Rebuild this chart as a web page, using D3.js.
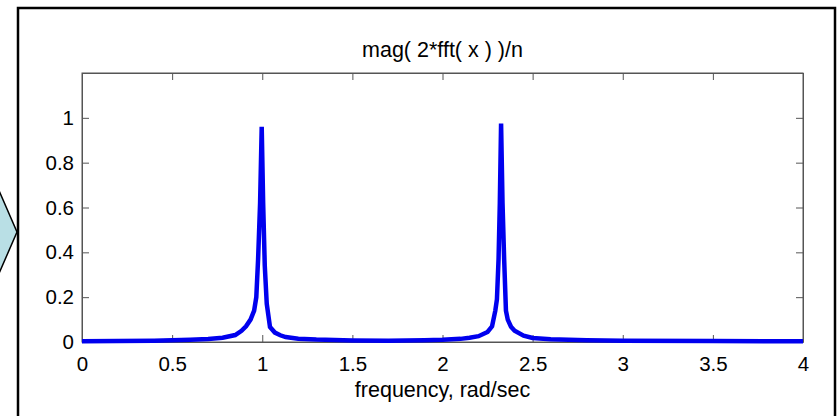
<!DOCTYPE html>
<html>
<head>
<meta charset="utf-8">
<script src="https://cdn.jsdelivr.net/npm/d3@7"></script>
<style>
  html, body { margin: 0; padding: 0; background: #fff; }
  svg { display: block; }
  text { font-family: "Liberation Sans", Arial, sans-serif; fill: #000; }
</style>
</head>
<body>
<svg id="chart" width="838" height="416"></svg>
<script>
// ---- data ----
const frequency = [0, 0.2, 0.4, 0.5, 0.6, 0.7, 0.78, 0.85, 0.885, 0.91, 0.935, 0.955, 0.967, 0.977, 0.988, 0.997,
                   1.005, 1.014, 1.025, 1.043, 1.07, 1.1, 1.13, 1.2, 1.3, 1.5, 1.7, 1.9, 2.0, 2.1,
                   2.15, 2.2, 2.25, 2.275, 2.293, 2.302, 2.311, 2.318, 2.325, 2.333, 2.342, 2.352, 2.362,
                   2.38, 2.4, 2.45, 2.5, 2.6, 2.8, 3.0, 3.5, 4.0];
const magnitude = [0.003, 0.004, 0.006, 0.008, 0.010, 0.013, 0.019, 0.031, 0.05, 0.07, 0.10, 0.14, 0.20, 0.37, 0.62, 0.96,
                   0.62, 0.34, 0.17, 0.067, 0.042, 0.03, 0.022, 0.015, 0.011, 0.007, 0.006, 0.008, 0.010, 0.014,
                   0.019, 0.026, 0.045, 0.07, 0.14, 0.19, 0.37, 0.62, 0.975, 0.62, 0.37, 0.14, 0.1,
                   0.068, 0.05, 0.028, 0.018, 0.012, 0.008, 0.006, 0.004, 0.003];
const xTicks = [0, 0.5, 1, 1.5, 2, 2.5, 3, 3.5, 4];
const xTickLabels = ["0", "0.5", "1", "1.5", "2", "2.5", "3", "3.5", "4"];
const yTicks = [0, 0.2, 0.4, 0.6, 0.8, 1];
const yTickLabels = ["0", "0.2", "0.4", "0.6", "0.8", "1"];
const titleText = "mag( 2*fft( x ) )/n";
const xLabelText = "frequency, rad/sec";

// ---- layout ----
const svg = d3.select("#chart");
const plot = { left: 82, right: 803, top: 73, bottom: 342 };
const axisColor = "#555";
const tickFont = 20.5;
const labelFont = 21.5;

svg.append("rect").attr("width", 838).attr("height", 416).attr("fill", "#fff");

// light blue chevron at the left edge (slide decoration)
svg.append("path")
  .attr("d", "M-6,179 L17,232 L-6,285 Z")
  .attr("fill", "#b9dfe5").attr("stroke", "#000").attr("stroke-width", 1.5);

// outer frame
svg.append("rect")
  .attr("x", 18).attr("y", 8).attr("width", 817).attr("height", 430)
  .attr("fill", "none").attr("stroke", "#000").attr("stroke-width", 2.5);

const x = d3.scaleLinear().domain([0, 4]).range([plot.left, plot.right]);
const y = d3.scaleLinear().domain([0, 1.2]).range([plot.bottom, plot.top]);

// plot box
svg.append("rect")
  .attr("x", plot.left).attr("y", plot.top)
  .attr("width", plot.right - plot.left).attr("height", plot.bottom - plot.top)
  .attr("fill", "#fff").attr("stroke", axisColor).attr("stroke-width", 1);

function styleAxis(g) {
  g.selectAll(".domain").attr("stroke", axisColor);
  g.selectAll(".tick line").attr("stroke", axisColor);
  g.selectAll(".tick text").attr("font-size", tickFont).attr("fill", "#000")
    .attr("font-family", "Liberation Sans, Arial, sans-serif");
}

const xb = svg.append("g").attr("transform", `translate(0,${plot.bottom})`)
  .call(d3.axisBottom(x).tickValues(xTicks).tickFormat((d, i) => xTickLabels[i])
    .tickSizeInner(-7).tickSizeOuter(0).tickPadding(14));
styleAxis(xb);
const xt = svg.append("g").attr("transform", `translate(0,${plot.top})`)
  .call(d3.axisTop(x).tickValues(xTicks).tickFormat("").tickSizeInner(-7).tickSizeOuter(0));
styleAxis(xt);
const yl = svg.append("g").attr("transform", `translate(${plot.left},0)`)
  .call(d3.axisLeft(y).tickValues(yTicks).tickFormat((d, i) => yTickLabels[i])
    .tickSizeInner(-7).tickSizeOuter(0).tickPadding(8));
styleAxis(yl);
const yr = svg.append("g").attr("transform", `translate(${plot.right},0)`)
  .call(d3.axisRight(y).tickValues(yTicks).tickFormat("").tickSizeInner(-7).tickSizeOuter(0));
styleAxis(yr);

// spectrum line
const pts = frequency.map((f, i) => [f, magnitude[i]]);
svg.append("path")
  .datum(pts)
  .attr("d", d3.line().x(d => x(d[0])).y(d => y(d[1])))
  .attr("fill", "none").attr("stroke", "#0000ee").attr("stroke-width", 4.5)
  .attr("stroke-linejoin", "miter").attr("stroke-miterlimit", 1.5);

// title and label
svg.append("text").attr("x", (plot.left + plot.right) / 2).attr("y", 57)
  .attr("text-anchor", "middle").attr("font-size", labelFont).text(titleText);
svg.append("text").attr("x", (plot.left + plot.right) / 2).attr("y", 397)
  .attr("text-anchor", "middle").attr("font-size", labelFont).text(xLabelText);
</script>
</body>
</html>
